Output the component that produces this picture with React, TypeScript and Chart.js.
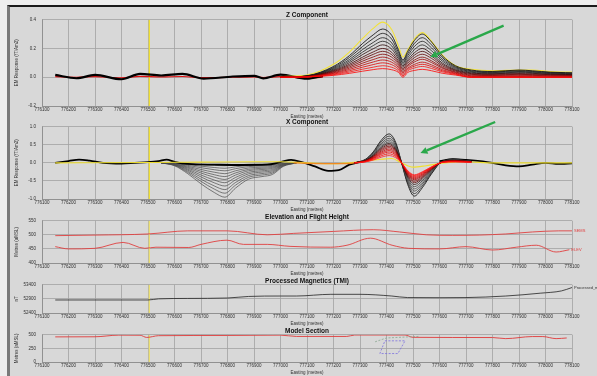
import { useEffect, useRef } from "react";
import { Chart, registerables } from "chart.js";
Chart.register(...registerables);

// ---------- axes ----------
const eastingTicks = [776100, 776200, 776300, 776400, 776500, 776600, 776700, 776800, 776900, 777000, 777100, 777200, 777300, 777400, 777500, 777600, 777700, 777800, 777900, 778000, 778100];
const zTicks = [-0.2, 0, 0.2, 0.4];
const xTicks = [-1, -0.5, 0, 0.5, 1];
const elevTicks = [400, 450, 500, 550];
const magTicks = [52400, 52900, 53400];
const modelTicks = [0, 250, 500];
const markerEasting = 776505;

// ---------- Z component ----------
const zBgEasting = [776150, 776230, 776300, 776400, 776470, 776550, 776630, 776710, 776820, 776900, 776935, 777000, 777100, 777160];
const zBgBlack = [0.016, -0.007, 0.016, -0.014, 0.023, 0.012, 0.023, -0.01, 0.005, 0.01, -0.008, 0.018, -0.01, 0.01];
const zBgRed = [0.004, 0, 0.004, -0.004, 0.006, 0.002, 0.005, -0.003, 0, 0.003, -0.002, 0.004, -0.005, 0];

const zAnomEasting = [777000, 777100, 777200, 777260, 777310, 777350, 777385, 777420, 777445, 777462, 777480, 777505, 777535, 777570, 777610, 777660, 777720, 777800, 777900, 777950, 778020, 778130];
const zCh0 = [0.005, 0.015, 0.09, 0.175, 0.27, 0.34, 0.383, 0.33, 0.22, 0.14, 0.19, 0.265, 0.31, 0.25, 0.155, 0.08, 0.055, 0.045, 0.05, 0.05, 0.04, 0.035];
const zCh1 = [0, 0.01, 0.075, 0.15, 0.235, 0.295, 0.335, 0.29, 0.19, 0.12, 0.18, 0.255, 0.30, 0.245, 0.15, 0.08, 0.05, 0.04, 0.05, 0.045, 0.035, 0.03];
const zCh2 = [0, 0.009, 0.068, 0.137, 0.214, 0.269, 0.305, 0.264, 0.173, 0.11, 0.165, 0.234, 0.275, 0.225, 0.138, 0.073, 0.045, 0.036, 0.045, 0.04, 0.032, 0.027];
const zCh3 = [0, 0.008, 0.062, 0.123, 0.193, 0.242, 0.275, 0.238, 0.156, 0.10, 0.15, 0.213, 0.25, 0.204, 0.125, 0.067, 0.04, 0.032, 0.04, 0.036, 0.028, 0.024];
const zCh4 = [0, 0.008, 0.056, 0.112, 0.175, 0.22, 0.25, 0.217, 0.142, 0.09, 0.135, 0.191, 0.225, 0.184, 0.113, 0.06, 0.035, 0.028, 0.035, 0.032, 0.025, 0.021];
const zCh5 = [0, 0.007, 0.05, 0.101, 0.158, 0.198, 0.225, 0.195, 0.128, 0.08, 0.12, 0.17, 0.20, 0.163, 0.10, 0.053, 0.03, 0.024, 0.03, 0.027, 0.021, 0.018];
const zCh6 = [0, 0.006, 0.045, 0.09, 0.14, 0.176, 0.20, 0.173, 0.113, 0.07, 0.108, 0.153, 0.18, 0.147, 0.09, 0.048, 0.025, 0.02, 0.025, 0.022, 0.018, 0.015];
const zCh7 = [0, 0.005, 0.04, 0.081, 0.126, 0.159, 0.18, 0.156, 0.102, 0.06, 0.096, 0.136, 0.16, 0.131, 0.08, 0.043, 0.02, 0.016, 0.02, 0.018, 0.014, 0.012];
const zCh8 = [0, 0.005, 0.036, 0.072, 0.112, 0.141, 0.16, 0.139, 0.091, 0.05, 0.084, 0.119, 0.14, 0.114, 0.07, 0.037, 0.015, 0.012, 0.015, 0.013, 0.01, 0.009];
const zCh9 = [0, 0.004, 0.031, 0.063, 0.098, 0.123, 0.14, 0.121, 0.079, 0.04, 0.075, 0.106, 0.125, 0.102, 0.063, 0.033, 0.01, 0.008, 0.01, 0.009, 0.007, 0.006];
const zCh10 = [0, 0.004, 0.027, 0.054, 0.084, 0.106, 0.12, 0.104, 0.068, 0.03, 0.063, 0.089, 0.105, 0.086, 0.053, 0.028, 0.005, 0.004, 0.005, 0.004, 0.003, 0.003];
const zCh11 = [0, 0.003, 0.022, 0.045, 0.07, 0.088, 0.10, 0.087, 0.057, 0.02, 0.054, 0.077, 0.09, 0.074, 0.045, 0.024, 0, 0, 0, 0, 0, 0];
const zCh12 = [0, 0.002, 0.018, 0.036, 0.056, 0.07, 0.08, 0.069, 0.045, 0.01, 0.045, 0.064, 0.075, 0.061, 0.038, 0.02, 0, 0, 0, 0, 0, 0];
const zCh13 = [0, 0.002, 0.013, 0.027, 0.042, 0.053, 0.06, 0.052, 0.034, 0, 0.033, 0.047, 0.055, 0.045, 0.028, 0.015, 0, 0, 0, 0, 0, 0];
const zChannels = [zCh0, zCh1, zCh2, zCh3, zCh4, zCh5, zCh6, zCh7, zCh8, zCh9, zCh10, zCh11, zCh12, zCh13];
const zColors = ["#f2e23a", "#000000", "#111111", "#1c1c1c", "#222222", "#2a0a0a", "#420000", "#600000", "#800000", "#a00000", "#c00000", "#e00000", "#f51010", "#ff0000"];
const zArrowFrom = [777842, 0.359];
const zArrowTo = [777565, 0.14];

// ---------- X component ----------
const xBgLeftEasting = [776150, 776200, 776240, 776280, 776330, 776400, 776450, 776500, 776540, 776570, 776600, 776650, 776750, 776850, 776950, 777000, 777040, 777080, 777130, 777180, 777220, 777260, 777300];
const xBgLeft = [0.0, 0.05, 0.09, 0.06, 0.0, -0.02, 0.0, 0.02, 0.05, 0.09, 0.03, -0.03, -0.05, -0.06, -0.05, 0.02, 0.08, 0.02, -0.1, -0.22, -0.2, -0.05, 0.02];
const xBgRightEasting = [777600, 777650, 777700, 777780, 777850, 777900, 777950, 778000, 778050, 778130];
const xBgRight = [0.05, 0.1, 0.08, 0.02, -0.07, -0.1, -0.05, 0.0, -0.03, 0.0];
const xYellowEasting = [776150, 776500, 776700, 776900, 777000, 777100, 777200, 777300, 777380, 777420, 777457, 777500, 777550, 777620, 777700, 777800, 778000, 778130];
const xYellow = [0, 0.01, 0.02, 0.03, 0.03, 0.0, -0.02, 0.03, 0.1, 0.12, 0.0, -0.12, -0.08, 0.0, 0.03, 0.0, 0.0, 0.0];
const xOrangeEasting = [777050, 777150, 777250, 777300];
const xOrange = [0.0, -0.02, -0.02, 0.02];

const xDipEasting = [776550, 776600, 776650, 776700, 776750, 776790, 776830, 776880, 776930, 776970, 777010, 777060];
const xDip0 = [0, -0.08, -0.30, -0.58, -0.82, -0.95, -0.70, -0.45, -0.38, -0.32, -0.10, 0];
const xDip1 = [0, -0.071, -0.265, -0.512, -0.725, -0.84, -0.619, -0.398, -0.336, -0.283, -0.088, 0];
const xDip2 = [0, -0.062, -0.234, -0.451, -0.639, -0.74, -0.545, -0.351, -0.296, -0.249, -0.078, 0];
const xDip3 = [0, -0.054, -0.202, -0.39, -0.552, -0.64, -0.472, -0.303, -0.256, -0.216, -0.067, 0];
const xDip4 = [0, -0.046, -0.174, -0.336, -0.475, -0.55, -0.405, -0.261, -0.22, -0.185, -0.058, 0];
const xDip5 = [0, -0.039, -0.145, -0.281, -0.397, -0.46, -0.339, -0.218, -0.184, -0.155, -0.048, 0];
const xDip6 = [0, -0.032, -0.12, -0.232, -0.328, -0.38, -0.28, -0.18, -0.152, -0.128, -0.04, 0];
const xDip7 = [0, -0.025, -0.095, -0.183, -0.259, -0.30, -0.221, -0.142, -0.12, -0.101, -0.032, 0];
const xDip8 = [0, -0.018, -0.07, -0.134, -0.19, -0.22, -0.162, -0.104, -0.088, -0.074, -0.023, 0];
const xDip9 = [0, -0.013, -0.047, -0.092, -0.129, -0.15, -0.111, -0.071, -0.06, -0.051, -0.016, 0];
const xDip10 = [0, -0.007, -0.025, -0.049, -0.069, -0.08, -0.059, -0.038, -0.032, -0.027, -0.008, 0];
const xDips = [xDip0, xDip1, xDip2, xDip3, xDip4, xDip5, xDip6, xDip7, xDip8, xDip9, xDip10];

const xAnomEasting = [777280, 777320, 777350, 777380, 777410, 777435, 777457, 777480, 777505, 777535, 777570, 777610, 777660, 777720];
const xCh0 = [0, 0.096, 0.304, 0.624, 0.80, 0.56, 0, -0.598, -0.92, -0.69, -0.304, 0.04, 0.10, 0.05];
const xCh1 = [0, 0.089, 0.281, 0.577, 0.74, 0.518, 0, -0.553, -0.85, -0.638, -0.281, 0.037, 0.093, 0.046];
const xCh2 = [0, 0.082, 0.258, 0.53, 0.68, 0.476, 0, -0.507, -0.78, -0.585, -0.257, 0.034, 0.085, 0.043];
const xCh3 = [0, 0.076, 0.239, 0.491, 0.63, 0.441, 0, -0.468, -0.72, -0.54, -0.238, 0.032, 0.079, 0.039];
const xCh4 = [0, 0.07, 0.22, 0.452, 0.58, 0.406, 0, -0.429, -0.66, -0.495, -0.218, 0.029, 0.073, 0.036];
const xCh5 = [0, 0.065, 0.205, 0.421, 0.54, 0.378, 0, -0.39, -0.60, -0.45, -0.198, 0.027, 0.068, 0.034];
const xCh6 = [0, 0.06, 0.19, 0.39, 0.50, 0.35, 0, -0.358, -0.55, -0.413, -0.182, 0.025, 0.063, 0.031];
const xCh7 = [0, 0.055, 0.175, 0.359, 0.46, 0.322, 0, -0.332, -0.51, -0.383, -0.168, 0.023, 0.058, 0.029];
const xCh8 = [0, 0.05, 0.16, 0.328, 0.42, 0.294, 0, -0.306, -0.47, -0.353, -0.155, 0.021, 0.053, 0.026];
const xCh9 = [0, 0.046, 0.144, 0.296, 0.38, 0.266, 0, -0.286, -0.44, -0.33, -0.145, 0.019, 0.048, 0.024];
const xCh10 = [0, 0.041, 0.129, 0.265, 0.34, 0.238, 0, -0.267, -0.41, -0.308, -0.135, 0.017, 0.043, 0.021];
const xCh11 = [0, 0.036, 0.114, 0.234, 0.30, 0.21, 0, -0.247, -0.38, -0.285, -0.125, 0.015, 0.038, 0.019];
const xCh12 = [0, 0.03, 0.095, 0.195, 0.25, 0.175, 0, -0.228, -0.35, -0.263, -0.116, 0.013, 0.031, 0.016];
const xCh13 = [0, 0.024, 0.076, 0.156, 0.20, 0.14, 0, -0.215, -0.33, -0.248, -0.109, 0.01, 0.025, 0.013];
const xChannels = [xCh0, xCh1, xCh2, xCh3, xCh4, xCh5, xCh6, xCh7, xCh8, xCh9, xCh10, xCh11, xCh12, xCh13];
const xColors = ["#000000", "#262626", "#3a3a3a", "#4a4a4a", "#3a3a3a", "#2a1010", "#5a0000", "#800000", "#a00000", "#c00000", "#d80000", "#ee0000", "#ff0000", "#ff2020"];
const xArrowFrom = [777810, 1.13];
const xArrowTo = [777528, 0.27];

// ---------- Elevation ----------
const elevUpperEasting = [776150, 776300, 776500, 776650, 776800, 776950, 777050, 777200, 777350, 777450, 777550, 777650, 777750, 777850, 777950, 778050, 778100];
const elevUpper = [497, 499, 503, 514, 514, 500, 505, 512, 518, 510, 500, 498, 499, 503, 510, 514, 514];
const elevLowerEasting = [776150, 776200, 776300, 776406, 776488, 776530, 776654, 776700, 776798, 776860, 776950, 777036, 777188, 777251, 777339, 777421, 777484, 777600, 777700, 777800, 777890, 777965, 778040, 778090];
const elevLower = [458, 450, 452, 473, 452, 456, 455, 466, 481, 466, 466, 459, 456, 463, 488, 463, 452, 450, 458, 446, 456, 463, 439, 447];

// ---------- Magnetics ----------
const magEasting = [776150, 776300, 776500, 776540, 776650, 776800, 776880, 777000, 777060, 777190, 777300, 777420, 777480, 777600, 777700, 777850, 777980, 778060, 778100];
const magTMI = [52860, 52860, 52860, 52900, 52915, 52930, 52985, 53000, 53000, 53060, 53060, 53000, 52945, 52940, 52945, 53000, 53100, 53180, 53300];

// ---------- Model section ----------
const modelEasting = [776150, 776300, 776390, 776470, 776495, 776540, 776800, 777000, 777060, 777250, 777280, 777470, 777500, 777800, 777850, 777950, 777990, 778040, 778080];
const modelElev = [460, 462, 492, 490, 450, 482, 486, 492, 468, 468, 494, 494, 452, 448, 428, 466, 466, 428, 440];
const plateEasting = [777394, 777470, 777443, 777375, 777394];
const plateElev = [388, 388, 155, 155, 388];
const plateTopEasting = [777357, 777400, 777525];
const plateTopElev = [370, 440, 470];

// ---------- helpers ----------
const FONT = "'Liberation Sans', Arial, sans-serif";
const TXT = "#303030";

const pts = (xs: number[], ys: number[]) => xs.map((x, i) => ({ x, y: ys[i] }));

const line = (xs: number[], ys: number[], color: string, width: number, order: number, extra: any = {}) => ({
  data: pts(xs, ys),
  borderColor: color,
  borderWidth: width,
  pointRadius: 0,
  fill: false,
  cubicInterpolationMode: "monotone",
  order,
  ...extra,
});

const marker = (yMin: number, yMax: number, color: string) =>
  line([markerEasting, markerEasting], [yMin, yMax], color, 1.3, 200);

function drawArrow(ctx: CanvasRenderingContext2D, x1: number, y1: number, x2: number, y2: number) {
  const head = 7;
  const ang = Math.atan2(y2 - y1, x2 - x1);
  const bx = x2 - Math.cos(ang) * head;
  const by = y2 - Math.sin(ang) * head;
  ctx.strokeStyle = "#2aa84a";
  ctx.fillStyle = "#2aa84a";
  ctx.lineWidth = 2.4;
  ctx.beginPath();
  ctx.moveTo(x1, y1);
  ctx.lineTo(bx, by);
  ctx.stroke();
  ctx.beginPath();
  ctx.moveTo(x2, y2);
  ctx.lineTo(bx + Math.sin(ang) * 3.5, by - Math.cos(ang) * 3.5);
  ctx.lineTo(bx - Math.sin(ang) * 3.5, by + Math.cos(ang) * 3.5);
  ctx.closePath();
  ctx.fill();
}

const arrowPlugin = (from: number[], to: number[]) => ({
  id: "arrow",
  afterDatasetsDraw(chart: any) {
    const { ctx, scales } = chart;
    ctx.save();
    drawArrow(ctx, scales.x.getPixelForValue(from[0]), scales.y.getPixelForValue(from[1]), scales.x.getPixelForValue(to[0]), scales.y.getPixelForValue(to[1]));
    ctx.restore();
  },
});

const labelPlugin = (labels: { text: string; x: number; y: number; color: string }[]) => ({
  id: "endLabels",
  afterDatasetsDraw(chart: any) {
    const { ctx, scales } = chart;
    ctx.save();
    ctx.font = `4px ${FONT}`;
    ctx.textAlign = "left";
    ctx.textBaseline = "middle";
    for (const l of labels) {
      ctx.fillStyle = l.color;
      ctx.fillText(l.text, scales.x.getPixelForValue(l.x) + 2, scales.y.getPixelForValue(l.y));
    }
    ctx.restore();
  },
});

interface PanelSpec {
  title: string;
  plotTop: number;
  plotBottom: number;
  titlePad: number;
  yMin: number;
  yMax: number;
  yTicks: number[];
  yTitle: string;
  fmt: (v: number) => string;
  datasets: any[];
  plugins: any[];
}

const TITLE_LH = 6.5;
const XAXIS_H = 13;

const panels: PanelSpec[] = [
  {
    title: "Z Component",
    plotTop: 19,
    plotBottom: 106,
    titlePad: 1.5,
    yMin: -0.2,
    yMax: 0.4,
    yTicks: zTicks,
    yTitle: "EM Response (fT/Am2)",
    fmt: (v) => v.toFixed(1),
    datasets: [
      marker(-0.2, 0.4, "#f0e030"),
      line(zBgEasting, zBgRed, "#e01010", 1.2, 60),
      line(zBgEasting, zBgBlack, "#000000", 2.2, 50),
      ...zChannels.map((c, i) => line(zAnomEasting, c, zColors[i], i === 0 ? 1.1 : 0.8, i === 0 ? 45 : 40 - i)),
    ],
    plugins: [arrowPlugin(zArrowFrom, zArrowTo)],
  },
  {
    title: "X Component",
    plotTop: 126,
    plotBottom: 199,
    titlePad: 1.5,
    yMin: -1,
    yMax: 1,
    yTicks: xTicks,
    yTitle: "EM Response (fT/Am2)",
    fmt: (v) => v.toFixed(1),
    datasets: [
      marker(-1, 1, "#f0e030"),
      ...xDips.map((c) => line(xDipEasting, c, "#4a4a4a", 0.7, 70)),
      line(xBgLeftEasting, xBgLeft, "#000000", 1.8, 55),
      line(xBgRightEasting, xBgRight, "#000000", 1.8, 55),
      line(xYellowEasting, xYellow, "#f0e030", 1.2, 48),
      line(xOrangeEasting, xOrange, "#f08a20", 1.2, 47),
      ...xChannels.map((c, i) => line(xAnomEasting, c, xColors[i], 0.8, 40 - i)),
    ],
    plugins: [arrowPlugin(xArrowFrom, xArrowTo)],
  },
  {
    title: "Elevation and Flight Height",
    plotTop: 219,
    plotBottom: 263,
    titlePad: 0.5,
    yMin: 400,
    yMax: 550,
    yTicks: elevTicks,
    yTitle: "Metres (aMSL)",
    fmt: (v) => String(v),
    datasets: [
      marker(400, 550, "#ece070"),
      line(elevUpperEasting, elevUpper, "#e04040", 0.9, 10),
      line(elevLowerEasting, elevLower, "#e04040", 0.9, 10),
    ],
    plugins: [
      labelPlugin([
        { text: "SEMS", x: elevUpperEasting[elevUpperEasting.length - 1], y: elevUpper[elevUpper.length - 1], color: "#e04040" },
        { text: "ELEV", x: elevLowerEasting[elevLowerEasting.length - 1], y: elevLower[elevLower.length - 1], color: "#e04040" },
      ]),
    ],
  },
  {
    title: "Processed Magnetics (TMI)",
    plotTop: 283,
    plotBottom: 313,
    titlePad: 0.5,
    yMin: 52400,
    yMax: 53400,
    yTicks: magTicks,
    yTitle: "nT",
    fmt: (v) => String(v),
    datasets: [marker(52400, 53400, "#ece070"), line(magEasting, magTMI, "#222222", 0.8, 10)],
    plugins: [labelPlugin([{ text: "Processed_mag", x: magEasting[magEasting.length - 1], y: magTMI[magTMI.length - 1], color: "#333333" }])],
  },
  {
    title: "Model Section",
    plotTop: 333,
    plotBottom: 362,
    titlePad: 0.5,
    yMin: 0,
    yMax: 500,
    yTicks: modelTicks,
    yTitle: "Metres (aMSL)",
    fmt: (v) => String(v),
    datasets: [
      marker(0, 500, "#ece070"),
      line(modelEasting, modelElev, "#e03a3a", 0.9, 10),
      line(plateEasting, plateElev, "#7c70e0", 0.8, 5, { cubicInterpolationMode: "default", tension: 0, borderDash: [2, 1.5] }),
      line(plateTopEasting, plateTopElev, "#8aa890", 0.8, 5, { cubicInterpolationMode: "default", tension: 0, borderDash: [2, 1.5] }),
    ],
    plugins: [],
  },
];

const canvasTop = (p: PanelSpec) => p.plotTop - TITLE_LH - p.titlePad;
const canvasHeight = (p: PanelSpec) => Math.round(TITLE_LH + p.titlePad + (p.plotBottom - p.plotTop) + XAXIS_H);

function makeConfig(p: PanelSpec): any {
  return {
    type: "line",
    data: { datasets: p.datasets },
    plugins: p.plugins,
    options: {
      animation: false,
      responsive: false,
      maintainAspectRatio: false,
      devicePixelRatio: 1,
      layout: { padding: { left: 0, right: 25, top: 0, bottom: 0 } },
      plugins: {
        legend: { display: false },
        tooltip: { enabled: false },
        title: {
          display: true,
          text: p.title,
          fullSize: false,
          color: "#111111",
          font: { family: FONT, size: 6.5, weight: "bold", lineHeight: 1 },
          padding: { top: 0, bottom: p.titlePad },
        },
      },
      scales: {
        x: {
          type: "linear",
          min: eastingTicks[0],
          max: eastingTicks[eastingTicks.length - 1],
          afterBuildTicks: (s: any) => {
            s.ticks = eastingTicks.map((v) => ({ value: v }));
          },
          afterFit: (s: any) => {
            s.height = XAXIS_H;
          },
          ticks: {
            autoSkip: false,
            maxRotation: 0,
            minRotation: 0,
            padding: 1.5,
            color: TXT,
            font: { family: FONT, size: 4.5 },
            callback: (v: any) => String(v),
          },
          grid: { color: "#a2a2a2", lineWidth: 0.8, drawTicks: false },
          border: { color: "#8a8a8a", width: 0.8 },
          title: { display: true, text: "Easting (metres)", color: TXT, font: { family: FONT, size: 4.5 }, padding: 0 },
        },
        y: {
          type: "linear",
          min: p.yMin,
          max: p.yMax,
          afterBuildTicks: (s: any) => {
            s.ticks = p.yTicks.map((v) => ({ value: v }));
          },
          afterFit: (s: any) => {
            s.width = 42;
          },
          ticks: { padding: 6, color: TXT, font: { family: FONT, size: 4.5 }, callback: (v: any) => p.fmt(Number(v)) },
          grid: { color: "#a2a2a2", lineWidth: 0.8, drawTicks: false },
          border: { color: "#8a8a8a", width: 0.8 },
          title: { display: true, text: p.yTitle, color: TXT, font: { family: FONT, size: 4.5 }, padding: { top: 14, bottom: 0 } },
        },
      },
    },
  };
}

export default function App() {
  const refs = useRef<(HTMLCanvasElement | null)[]>([]);
  useEffect(() => {
    const charts = panels.map((p, i) => new Chart(refs.current[i] as HTMLCanvasElement, makeConfig(p)));
    return () => charts.forEach((c) => c.destroy());
  }, []);
  return (
    <div style={{ position: "fixed", left: 0, top: 0, width: 597, height: 376, background: "#eeeeee", overflow: "hidden" }}>
      <div
        style={{
          position: "absolute",
          left: 7,
          top: 5,
          width: 600,
          height: 380,
          background: "#d8d8d8",
          borderTop: "2px solid #1a1a1a",
          borderLeft: "3px solid #7a7a7a",
          boxSizing: "border-box",
        }}
      />
      {panels.map((p, i) => (
        <canvas
          key={i}
          ref={(el) => {
            refs.current[i] = el;
          }}
          width={597}
          height={canvasHeight(p)}
          style={{ position: "absolute", left: 0, top: canvasTop(p), width: 597, height: canvasHeight(p) }}
        />
      ))}
    </div>
  );
}
